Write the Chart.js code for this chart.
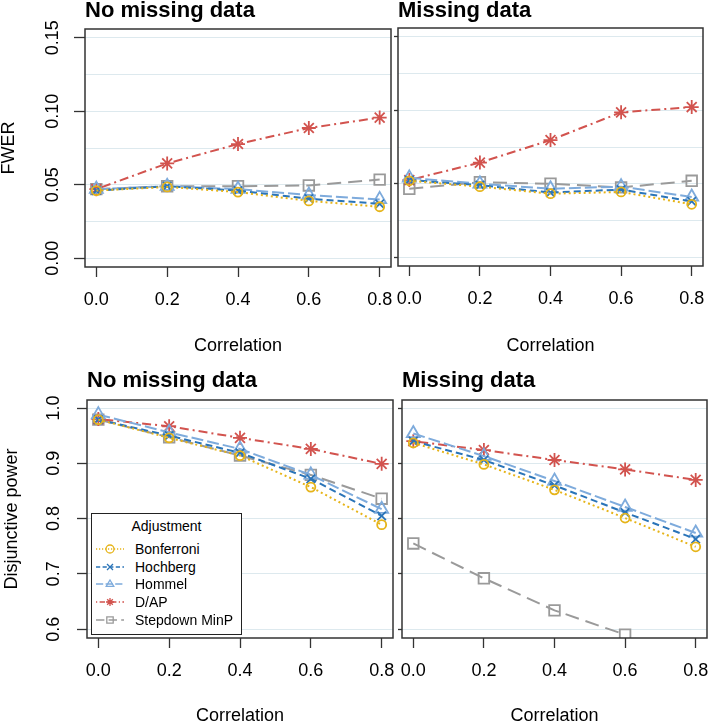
<!DOCTYPE html>
<html>
<head>
<meta charset="utf-8">
<title>FWER and disjunctive power</title>
<script src="https://cdn.jsdelivr.net/npm/chart.js@4.4.0/dist/chart.umd.min.js"></script>
<style>
  body { margin: 0; width: 709px; height: 725px; position: relative; overflow: hidden; background: #fff;
         font-family: "Liberation Sans", Arial, sans-serif; color: #000; }
  canvas.panel { position: absolute; }
  #legend { position: absolute; left: 91px; top: 513px; width: 149px; height: 120px; background: #fff;
            border: 1.5px solid #222; }
  #legend .lt { position: absolute; left: 0; right: 0; top: 3px; text-align: center; font-size: 14px; line-height: 18px; }
  #legend .row { position: absolute; left: 0; height: 18px; line-height: 18px; font-size: 14px; white-space: nowrap; }
  #legend .row canvas { position: absolute; left: 3px; top: 0; }
  #legend .row span { position: absolute; left: 43px; top: 0; }
</style>
</head>
<body>
<canvas class="panel" id="fwerNoMissing" width="393" height="355" style="left:0;top:0"></canvas>
<canvas class="panel" id="fwerMissing" width="316" height="355" style="left:393px;top:0"></canvas>
<canvas class="panel" id="powerNoMissing" width="395" height="365" style="left:0;top:360px"></canvas>
<canvas class="panel" id="powerMissing" width="314" height="365" style="left:395px;top:360px"></canvas>
<div id="legend"><div class="lt">Adjustment</div></div>

<script>
const correlation = [0.0, 0.2, 0.4, 0.6, 0.8];
const methodNames = ['Bonferroni', 'Hochberg', 'Hommel', 'D/AP', 'Stepdown MinP'];
const fwerTicks = [0, 0.025, 0.05, 0.075, 0.1, 0.125, 0.15];
const powerTicks = [0.6, 0.7, 0.8, 0.9, 1.0];

// FWER, no missing data
const fwerNoMissBonferroni = [0.046, 0.0485, 0.045, 0.039, 0.035];
const fwerNoMissHochberg   = [0.046, 0.049, 0.046, 0.0405, 0.037];
const fwerNoMissHommel     = [0.047, 0.049, 0.047, 0.043, 0.040];
const fwerNoMissDAP        = [0.047, 0.0645, 0.0777, 0.0886, 0.0957];
const fwerNoMissMinP       = [0.047, 0.049, 0.049, 0.0495, 0.0535];

// FWER, missing data
const fwerMissBonferroni = [0.052, 0.048, 0.0432, 0.0444, 0.036];
const fwerMissHochberg   = [0.0525, 0.049, 0.044, 0.046, 0.038];
const fwerMissHommel     = [0.054, 0.050, 0.0466, 0.048, 0.041];
const fwerMissDAP        = [0.0525, 0.0644, 0.0797, 0.0986, 0.1022];
const fwerMissMinP       = [0.0466, 0.051, 0.050, 0.0475, 0.052];

// disjunctive power, no missing data
const powNoMissBonferroni = [0.979, 0.946, 0.914, 0.857, 0.789];
const powNoMissHochberg   = [0.979, 0.950, 0.919, 0.872, 0.805];
const powNoMissHommel     = [0.988, 0.956, 0.926, 0.879, 0.817];
const powNoMissDAP        = [0.980, 0.967, 0.946, 0.926, 0.899];
const powNoMissMinP       = [0.979, 0.947, 0.914, 0.879, 0.836];

// disjunctive power, missing data (MinP at 0.8 falls below the axis)
const powMissBonferroni = [0.937, 0.898, 0.852, 0.801, 0.749];
const powMissHochberg   = [0.940, 0.906, 0.860, 0.811, 0.763];
const powMissHommel     = [0.954, 0.913, 0.868, 0.821, 0.774];
const powMissDAP        = [0.940, 0.924, 0.906, 0.889, 0.870];
const powMissMinP       = [0.755, 0.692, 0.634, 0.590, null];

// styles
const methodColors = ['#e6b419', '#2a74b8', '#7eabdc', '#d2534e', '#9a9a9a'];
const methodDashes = [[2, 3], [7, 4], [12, 4], [2, 4, 9, 4], [14, 7]];
const methodPoints = ['circle', 'crossRot', 'triangle', 'star', 'rect'];
const methodRadius = [4.5, 6, 7.5, 7, 7.5];

Chart.defaults.font.family = '"Liberation Sans", Arial, sans-serif';
Chart.defaults.color = '#000';

// R-style box round the plot region
const panelBox = {
  id: 'panelBox',
  afterDraw(chart) {
    const { ctx, chartArea: a } = chart;
    ctx.save();
    ctx.strokeStyle = '#333';
    ctx.lineWidth = 1.5;
    ctx.strokeRect(a.left, a.top, a.right - a.left, a.bottom - a.top);
    ctx.restore();
  }
};

function buildDatasets(series) {
  return series.map((values, i) => ({
    label: methodNames[i],
    data: correlation.map((x, j) => ({ x: x, y: values[j] })),
    borderColor: methodColors[i],
    backgroundColor: 'rgba(0,0,0,0)',
    borderWidth: 2,
    borderDash: methodDashes[i],
    pointStyle: methodPoints[i],
    pointRadius: methodRadius[i],
    pointBorderWidth: 1.8,
    pointBorderColor: methodColors[i],
    pointBackgroundColor: 'rgba(0,0,0,0)',
    tension: 0
  }));
}

function makePanel(id, p) {
  new Chart(document.getElementById(id), {
    type: 'line',
    data: { datasets: buildDatasets(p.series) },
    options: {
      responsive: false,
      animation: false,
      events: [],
      layout: { autoPadding: false, padding: { left: 0, top: 0, right: p.padRight, bottom: 0 } },
      plugins: {
        legend: { display: false },
        tooltip: { enabled: false },
        title: {
          display: true, text: p.title, align: 'start', fullSize: false, color: '#000',
          font: { size: 22, weight: 'bold', lineHeight: 1 },
          padding: { top: p.titleTop, bottom: p.titleBottom }
        }
      },
      scales: {
        x: {
          type: 'linear', min: -0.032, max: 0.832,
          afterBuildTicks: s => { s.ticks = correlation.map(v => ({ value: v })); },
          afterFit: s => { s.height = p.xAxisHeight; s.paddingLeft = 0; s.paddingRight = 0; },
          ticks: { autoSkip: false, maxRotation: 0, padding: 12, font: { size: 18 }, color: '#000',
                   callback: v => v.toFixed(1) },
          grid: { drawOnChartArea: false, drawTicks: true, tickLength: 10, tickColor: '#333', tickWidth: 1.3 },
          border: { display: false },
          title: { display: true, text: 'Correlation', color: '#000', font: { size: 18, lineHeight: 1 }, padding: 0 }
        },
        y: {
          type: 'linear', min: p.yMin, max: p.yMax,
          afterBuildTicks: s => { s.ticks = p.yTicks.map(v => ({ value: v })); },
          afterFit: s => { s.width = p.yAxisWidth; s.paddingTop = 0; s.paddingBottom = 0; },
          ticks: { display: p.labelled, autoSkip: false, minRotation: 90, maxRotation: 90, crossAlign: 'center',
                   padding: p.yLabelPad, font: { size: 18 }, color: '#000',
                   callback: v => p.isMajor(v) ? v.toFixed(p.digits) : '' },
          grid: { color: '#dde9ee', lineWidth: 1, drawTicks: true, tickLength: p.yTickLen, tickWidth: 1.3,
                  tickColor: c => p.isMajor(c.tick.value) ? '#333' : 'rgba(0,0,0,0)' },
          border: { display: false },
          title: { display: p.labelled, text: p.yTitle, color: '#000', font: { size: 18, lineHeight: 1 },
                   padding: { top: p.yTitlePad, bottom: 0 } }
        }
      }
    },
    plugins: [panelBox]
  });
}

const fwerMajor = v => Math.abs(v / 0.05 - Math.round(v / 0.05)) < 1e-6;
const powerMajor = () => true;

makePanel('fwerNoMissing', {
  title: 'No missing data', yTitle: 'FWER', labelled: true,
  series: [fwerNoMissBonferroni, fwerNoMissHochberg, fwerNoMissHommel, fwerNoMissDAP, fwerNoMissMinP],
  yMin: -0.006, yMax: 0.156, yTicks: fwerTicks, isMajor: fwerMajor, digits: 2,
  yAxisWidth: 85, xAxisHeight: 88, titleTop: 0, titleBottom: 7, padRight: 2,
  yTickLen: 11, yLabelPad: 3.5, yTitlePad: 0
});
makePanel('fwerMissing', {
  title: 'Missing data', yTitle: '', labelled: false,
  series: [fwerMissBonferroni, fwerMissHochberg, fwerMissHommel, fwerMissDAP, fwerMissMinP],
  yMin: -0.006, yMax: 0.156, yTicks: fwerTicks, isMajor: fwerMajor, digits: 2,
  yAxisWidth: 5, xAxisHeight: 89, titleTop: 0, titleBottom: 6, padRight: 6,
  yTickLen: 4, yLabelPad: 0, yTitlePad: 0
});
makePanel('powerNoMissing', {
  title: 'No missing data', yTitle: 'Disjunctive power', labelled: true,
  series: [powNoMissBonferroni, powNoMissHochberg, powNoMissHommel, powNoMissDAP, powNoMissMinP],
  yMin: 0.584, yMax: 1.0145, yTicks: powerTicks, isMajor: powerMajor, digits: 1,
  yAxisWidth: 87, xAxisHeight: 87, titleTop: 10, titleBottom: 8, padRight: 2,
  yTickLen: 10, yLabelPad: 10.5, yTitlePad: 3
});
makePanel('powerMissing', {
  title: 'Missing data', yTitle: '', labelled: false,
  series: [powMissBonferroni, powMissHochberg, powMissHommel, powMissDAP, powMissMinP],
  yMin: 0.584, yMax: 1.0145, yTicks: powerTicks, isMajor: powerMajor, digits: 1,
  yAxisWidth: 7, xAxisHeight: 87, titleTop: 10, titleBottom: 8, padRight: 2,
  yTickLen: 4, yLabelPad: 0, yTitlePad: 0
});

// legend: line sample + symbol, like R's legend()
function drawSymbol(ctx, style, x, y, r) {
  ctx.beginPath();
  if (style === 'circle') {
    ctx.arc(x, y, r, 0, Math.PI * 2);
  } else if (style === 'crossRot') {
    const d = r * 0.75;
    ctx.moveTo(x - d, y - d); ctx.lineTo(x + d, y + d);
    ctx.moveTo(x + d, y - d); ctx.lineTo(x - d, y + d);
  } else if (style === 'triangle') {
    ctx.moveTo(x, y - r); ctx.lineTo(x + r * 0.95, y + r * 0.6); ctx.lineTo(x - r * 0.95, y + r * 0.6); ctx.closePath();
  } else if (style === 'star') {
    for (let k = 0; k < 4; k++) {
      const a = k * Math.PI / 4;
      ctx.moveTo(x - r * Math.cos(a), y - r * Math.sin(a));
      ctx.lineTo(x + r * Math.cos(a), y + r * Math.sin(a));
    }
  } else if (style === 'rect') {
    ctx.rect(x - r * 0.8, y - r * 0.8, r * 1.6, r * 1.6);
  }
  ctx.stroke();
}

const legendEl = document.getElementById('legend');
methodNames.forEach((name, i) => {
  const row = document.createElement('div');
  row.className = 'row';
  row.style.top = (26 + i * 17.7) + 'px';
  row.style.width = '100%';
  const c = document.createElement('canvas');
  c.width = 30; c.height = 18;
  const span = document.createElement('span');
  span.textContent = name;
  row.appendChild(c);
  row.appendChild(span);
  legendEl.appendChild(row);
  const ctx = c.getContext('2d');
  ctx.strokeStyle = methodColors[i];
  ctx.lineWidth = 1.3;
  ctx.setLineDash(methodDashes[i].map(d => d * 0.6));
  ctx.beginPath(); ctx.moveTo(1, 9); ctx.lineTo(29, 9); ctx.stroke();
  ctx.setLineDash([]);
  drawSymbol(ctx, methodPoints[i], 15, 9, 4);
});
</script>
</body>
</html>
